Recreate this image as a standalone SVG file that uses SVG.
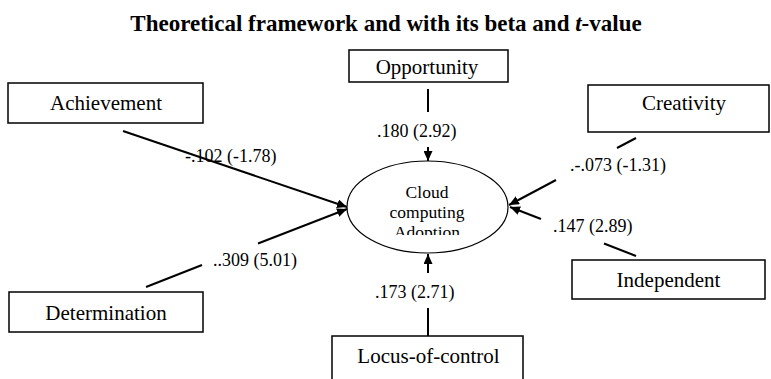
<svg xmlns="http://www.w3.org/2000/svg" width="771" height="379" viewBox="0 0 771 379">
<style>
text{font-family:"Liberation Serif","DejaVu Serif","Noto Serif","Times New Roman",serif}
.box{fill:#fff;stroke:#000;stroke-width:1.5}
.lbl{font-size:21px;fill:#000;text-anchor:middle}
.num{font-size:18px;fill:#000}
.con{stroke:#000;stroke-width:2;fill:none}
.title{font-size:23px;font-weight:bold;fill:#000;text-anchor:middle}
.ell{font-size:17.5px;fill:#000;text-anchor:middle}
</style>
<defs>
<marker id="arr" markerUnits="userSpaceOnUse" markerWidth="11" markerHeight="9" refX="10" refY="4.5" orient="auto" viewBox="0 0 11 9">
<path d="M0,0 L10,4.5 L0,9 z" fill="#000"/>
</marker>
<clipPath id="ellclip"><rect x="340" y="150" width="180" height="85"/></clipPath>
</defs>
<rect width="771" height="379" fill="#fff"/>
<text class="title" x="386" y="31" font-family="Liberation Serif, serif">Theoretical framework and with its beta and <tspan font-style="italic">t</tspan>-value</text>

<g id="connectors">
<line class="con" x1="123" y1="131" x2="347" y2="207" marker-end="url(#arr)"/>
<line class="con" x1="146" y1="287" x2="202" y2="265"/>
<line class="con" x1="258" y1="243.5" x2="347" y2="209" marker-end="url(#arr)"/>
<line class="con" x1="428" y1="89" x2="428" y2="112"/>
<line class="con" x1="428" y1="147" x2="428" y2="161" marker-end="url(#arr)"/>
<line class="con" x1="428" y1="336" x2="428" y2="308"/>
<line class="con" x1="428" y1="273" x2="428" y2="254" marker-end="url(#arr)"/>
<line class="con" x1="636" y1="138" x2="617" y2="148"/>
<line class="con" x1="556" y1="180" x2="509" y2="205" marker-end="url(#arr)"/>
<line class="con" x1="636" y1="256" x2="604" y2="243.5"/>
<line class="con" x1="541" y1="219" x2="510" y2="207" marker-end="url(#arr)"/>
<text class="num" x="185" y="162">-.102 (-1.78)</text>
<text class="num" x="377" y="137">.180 (2.92)</text>
<text class="num" x="570" y="171">.-.073 (-1.31)</text>
<text class="num" x="553" y="232">.147 (2.89)</text>
<text class="num" x="213" y="266">..309 (5.01)</text>
<text class="num" x="375" y="298">.173 (2.71)</text>
</g>

<g id="achievement">
<rect class="box" x="8" y="83" width="195" height="40"/>
<text class="lbl" x="106" y="110">Achievement</text>
</g>
<g id="opportunity">
<rect class="box" x="349" y="50" width="159" height="32"/>
<text class="lbl" x="427" y="74">Opportunity</text>
</g>
<g id="creativity">
<rect class="box" x="588" y="85" width="181" height="47"/>
<text class="lbl" x="684" y="110">Creativity</text>
</g>
<g id="independent">
<rect class="box" x="572" y="260" width="193" height="39"/>
<text class="lbl" x="668.5" y="287">Independent</text>
</g>
<g id="determination">
<rect class="box" x="9" y="292" width="194" height="40"/>
<text class="lbl" x="106" y="320">Determination</text>
</g>
<g id="locus">
<rect class="box" x="332" y="336" width="191" height="60"/>
<text class="lbl" x="428.5" y="363">Locus-of-control</text>
</g>
<g id="adoption">
<ellipse cx="427.5" cy="207" rx="80.5" ry="46" fill="#fff" stroke="#000" stroke-width="1.2"/>
<g clip-path="url(#ellclip)">
<text class="ell" x="427" y="198">Cloud</text>
<text class="ell" x="427" y="218">computing</text>
<text class="ell" x="427" y="238">Adoption</text>
</g>
</g>
</svg>
